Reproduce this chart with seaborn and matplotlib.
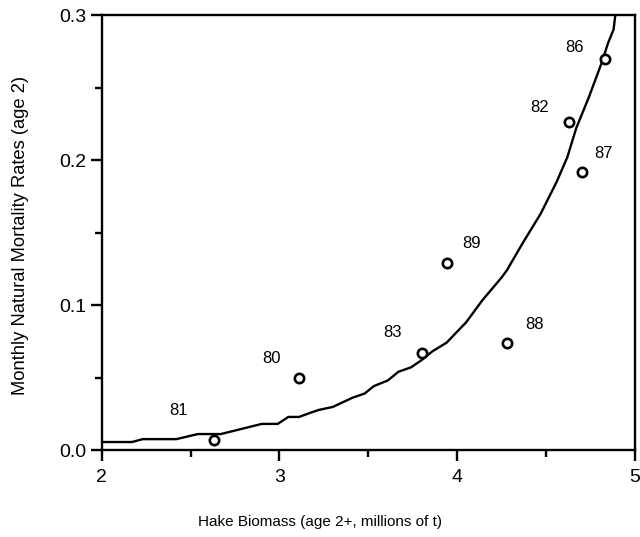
import matplotlib
matplotlib.use("Agg")
import matplotlib.pyplot as plt
import seaborn as sns
import pandas as pd
from matplotlib.ticker import MultipleLocator, FormatStrFormatter

# Observed points
years = ["81", "80", "83", "88", "89", "87", "82", "86"]
biomass = [2.63, 3.11, 3.80, 4.28, 3.94, 4.70, 4.63, 4.83]
mortality = [0.007, 0.050, 0.067, 0.074, 0.129, 0.192, 0.226, 0.270]

# Fitted curve
curve_x = [2.00, 2.17, 2.23, 2.42, 2.54, 2.67, 2.90, 2.99, 3.05, 3.11, 3.17, 3.22,
           3.30, 3.41, 3.48, 3.53, 3.61, 3.67, 3.74, 3.80, 3.86, 3.94, 4.05, 4.14,
           4.25, 4.28, 4.37, 4.47, 4.56, 4.62, 4.67, 4.74, 4.81, 4.85, 4.88, 4.89]
curve_y = [0.0055, 0.0055, 0.0075, 0.0075, 0.011, 0.011, 0.018, 0.018, 0.0228, 0.0228, 0.0255, 0.0276,
           0.0297, 0.036, 0.039, 0.044, 0.048, 0.054, 0.057, 0.062, 0.068, 0.074, 0.088, 0.103,
           0.119, 0.124, 0.143, 0.163, 0.185, 0.202, 0.222, 0.243, 0.266, 0.281, 0.290, 0.300]

# label offsets (points) relative to each point
label_dx = [-25, -20, -21, 20, 18, 16, -21, -22]
label_dy = [21, 14, 15, 13, 14, 13, 11, 8]

sns.set_style("ticks")
plt.rcParams['font.family'] = ['Liberation Sans', 'DejaVu Sans']
plt.rcParams.update({
    "text.color": "black",
    "axes.labelcolor": "black",
    "axes.edgecolor": "black",
    "xtick.color": "black",
    "ytick.color": "black",
})

fig = plt.figure(figsize=(6.4, 5.37), dpi=100)
ax = fig.add_axes([0.159, 0.162, 0.833, 0.810])

curve_df = pd.DataFrame({"x": curve_x, "y": curve_y})
pts_df = pd.DataFrame({"x": biomass, "y": mortality, "year": years})

sns.lineplot(data=curve_df, x="x", y="y", ax=ax, color="black", lw=1.7, sort=False)
sns.scatterplot(data=pts_df, x="x", y="y", ax=ax, marker="o", s=45,
                facecolor="white", edgecolor="black", linewidth=1.9, zorder=3)

for xv, yv, t, dx, dy in zip(biomass, mortality, years, label_dx, label_dy):
    ax.annotate(t, (xv, yv), xytext=(dx, dy), textcoords="offset points",
                ha="center", va="center", fontsize=12, color="black")

ax.set_xlim(2, 5)
ax.set_ylim(0, 0.3)
ax.xaxis.set_major_locator(MultipleLocator(1))
ax.xaxis.set_minor_locator(MultipleLocator(0.5))
ax.yaxis.set_major_locator(MultipleLocator(0.1))
ax.yaxis.set_minor_locator(MultipleLocator(0.05))
ax.xaxis.set_major_formatter(FormatStrFormatter("%d"))
ax.yaxis.set_major_formatter(FormatStrFormatter("%.1f"))

for s in ax.spines.values():
    s.set_linewidth(1.7)
    s.set_color("black")
    s.set_visible(True)
ax.tick_params(which="both", color="black", labelcolor="black")
ax.tick_params(which="major", direction="out", length=8, width=1.7, labelsize=14)
ax.tick_params(axis="x", which="major", pad=6)
ax.tick_params(axis="y", which="major", pad=3)
ax.tick_params(which="minor", direction="out", length=5, width=1.7)

ax.set_xlabel("Hake Biomass (age 2+, millions of t)", fontsize=11, va="center")
ax.xaxis.set_label_coords(0.409, -0.166)
ax.set_ylabel("Monthly Natural Mortality Rates (age 2)", fontsize=13.2, va="center")
ax.yaxis.set_label_coords(-0.152, 0.494)

fig.savefig("out.png", dpi=100)
